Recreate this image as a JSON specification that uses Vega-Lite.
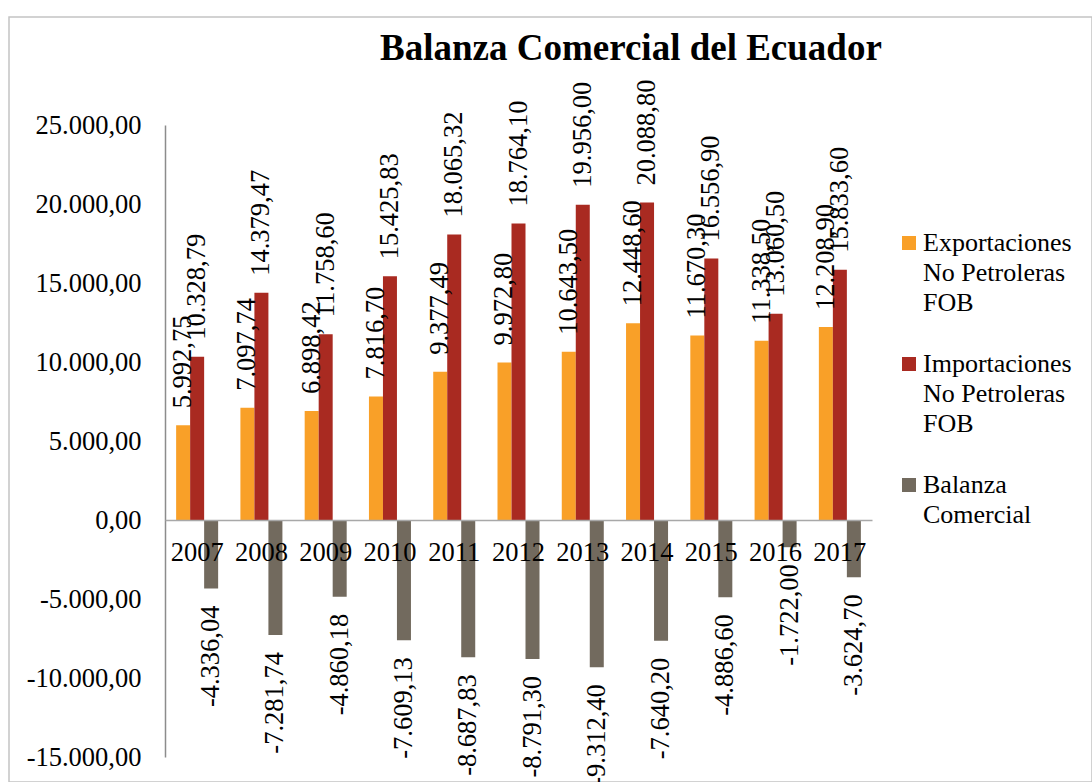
{
  "$schema": "https://vega.github.io/schema/vega-lite/v6.json",
  "autosize": {"type": "none"},
  "width": 1083,
  "height": 765,
  "padding": {"left": 9, "top": 17, "right": 0, "bottom": 0},
  "background": "white",
  "config": {
    "locale": {"number": {"decimal": ",", "thousands": ".", "grouping": [3], "currency": ["", ""], "minus": "-"}},
    "view": {"stroke": "#C4C4C4", "strokeWidth": 1.5},
    "font": "Liberation Serif"
  },
  "title": {
    "text": "Balanza Comercial del Ecuador",
    "anchor": "start",
    "frame": "group",
    "dx": 371,
    "dy": 40,
    "offset": -40,
    "baseline": "alphabetic",
    "font": "Liberation Serif",
    "fontSize": 37,
    "fontWeight": "bold",
    "color": "black"
  },
  "data": {
    "values": [
      {"year": "2007", "serie": "Exportaciones No Petroleras FOB", "valor": 5992.75},
      {"year": "2008", "serie": "Exportaciones No Petroleras FOB", "valor": 7097.74},
      {"year": "2009", "serie": "Exportaciones No Petroleras FOB", "valor": 6898.42},
      {"year": "2010", "serie": "Exportaciones No Petroleras FOB", "valor": 7816.70},
      {"year": "2011", "serie": "Exportaciones No Petroleras FOB", "valor": 9377.49},
      {"year": "2012", "serie": "Exportaciones No Petroleras FOB", "valor": 9972.80},
      {"year": "2013", "serie": "Exportaciones No Petroleras FOB", "valor": 10643.50},
      {"year": "2014", "serie": "Exportaciones No Petroleras FOB", "valor": 12448.60},
      {"year": "2015", "serie": "Exportaciones No Petroleras FOB", "valor": 11670.30},
      {"year": "2016", "serie": "Exportaciones No Petroleras FOB", "valor": 11338.50},
      {"year": "2017", "serie": "Exportaciones No Petroleras FOB", "valor": 12208.90},
      {"year": "2007", "serie": "Importaciones No Petroleras FOB", "valor": 10328.79},
      {"year": "2008", "serie": "Importaciones No Petroleras FOB", "valor": 14379.47},
      {"year": "2009", "serie": "Importaciones No Petroleras FOB", "valor": 11758.60},
      {"year": "2010", "serie": "Importaciones No Petroleras FOB", "valor": 15425.83},
      {"year": "2011", "serie": "Importaciones No Petroleras FOB", "valor": 18065.32},
      {"year": "2012", "serie": "Importaciones No Petroleras FOB", "valor": 18764.10},
      {"year": "2013", "serie": "Importaciones No Petroleras FOB", "valor": 19956.00},
      {"year": "2014", "serie": "Importaciones No Petroleras FOB", "valor": 20088.80},
      {"year": "2015", "serie": "Importaciones No Petroleras FOB", "valor": 16556.90},
      {"year": "2016", "serie": "Importaciones No Petroleras FOB", "valor": 13060.50},
      {"year": "2017", "serie": "Importaciones No Petroleras FOB", "valor": 15833.60},
      {"year": "2007", "serie": "Balanza Comercial", "valor": -4336.04},
      {"year": "2008", "serie": "Balanza Comercial", "valor": -7281.74},
      {"year": "2009", "serie": "Balanza Comercial", "valor": -4860.18},
      {"year": "2010", "serie": "Balanza Comercial", "valor": -7609.13},
      {"year": "2011", "serie": "Balanza Comercial", "valor": -8687.83},
      {"year": "2012", "serie": "Balanza Comercial", "valor": -8791.30},
      {"year": "2013", "serie": "Balanza Comercial", "valor": -9312.40},
      {"year": "2014", "serie": "Balanza Comercial", "valor": -7640.20},
      {"year": "2015", "serie": "Balanza Comercial", "valor": -4886.60},
      {"year": "2016", "serie": "Balanza Comercial", "valor": -1722.00},
      {"year": "2017", "serie": "Balanza Comercial", "valor": -3624.70}
    ]
  },
  "encoding": {
    "x": {
      "field": "year",
      "type": "nominal",
      "scale": {"range": [156, 863], "paddingInner": 0, "paddingOuter": 0},
      "axis": {
        "title": null,
        "orient": "bottom",
        "offset": -262,
        "zindex": 2,
        "ticks": false,
        "domain": true,
        "domainColor": "#A8A8A8",
        "domainWidth": 1.5,
        "labelAngle": 0,
        "labelPadding": 19,
        "labelFont": "Liberation Serif",
        "labelFontSize": 26.5,
        "labelColor": "black",
        "grid": false
      }
    },
    "y": {
      "field": "valor",
      "type": "quantitative",
      "scale": {"domain": [-15000, 25000], "range": [740, 108], "nice": false, "zero": false},
      "axis": {
        "title": null,
        "values": [-15000, -10000, -5000, 0, 5000, 10000, 15000, 20000, 25000],
        "format": ",.2f",
        "offset": -156,
        "ticks": false,
        "grid": false,
        "domain": true,
        "domainColor": "#8C8C8C",
        "domainWidth": 1.5,
        "labelPadding": 24,
        "labelFont": "Liberation Serif",
        "labelFontSize": 26.5,
        "labelColor": "black",
        "labelFlush": false,
        "labelOverlap": false,
        "labelBound": false
      }
    },
    "xOffset": {
      "field": "serie",
      "type": "nominal",
      "sort": ["Exportaciones No Petroleras FOB", "Importaciones No Petroleras FOB", "Balanza Comercial"],
      "scale": {"paddingInner": 0, "paddingOuter": 0.795}
    }
  },
  "layer": [
    {
      "mark": {"type": "bar"},
      "encoding": {
        "color": {
          "field": "serie",
          "type": "nominal",
          "scale": {
            "domain": ["Exportaciones No Petroleras FOB", "Importaciones No Petroleras FOB", "Balanza Comercial"],
            "range": ["#F9A028", "#A92A21", "#726A5E"]
          },
          "legend": {
            "title": null,
            "orient": "none",
            "legendX": 887,
            "legendY": 213,
            "direction": "vertical",
            "padding": 0,
            "symbolType": "square",
            "symbolSize": 196,
            "symbolStrokeWidth": 0,
            "symbolOpacity": 1,
            "labelFont": "Liberation Serif",
            "labelFontSize": 26,
            "labelColor": "black",
            "labelLimit": 0,
            "labelOffset": 1,
            "rowPadding": 35,
            "labelExpr": "datum.label == 'Exportaciones No Petroleras FOB' ? ['Exportaciones', 'No Petroleras', 'FOB'] : datum.label == 'Importaciones No Petroleras FOB' ? ['Importaciones', 'No Petroleras', 'FOB'] : ['Balanza', 'Comercial']",
            "encode": {"labels": {"update": {"lineHeight": {"value": 30}}}}
          }
        }
      }
    },
    {
      "transform": [{"filter": "datum.valor >= 0"}],
      "mark": {"type": "text", "angle": -90, "align": "left", "baseline": "middle", "dx": 17, "font": "Liberation Serif", "fontSize": 26.5, "color": "black"},
      "encoding": {
        "text": {"field": "valor", "type": "quantitative", "format": ",.2f"}
      }
    },
    {
      "transform": [{"filter": "datum.valor < 0"}],
      "mark": {"type": "text", "angle": -90, "align": "right", "baseline": "middle", "dx": -17, "font": "Liberation Serif", "fontSize": 26.5, "color": "black"},
      "encoding": {
        "text": {"field": "valor", "type": "quantitative", "format": ",.2f"}
      }
    }
  ]
}
